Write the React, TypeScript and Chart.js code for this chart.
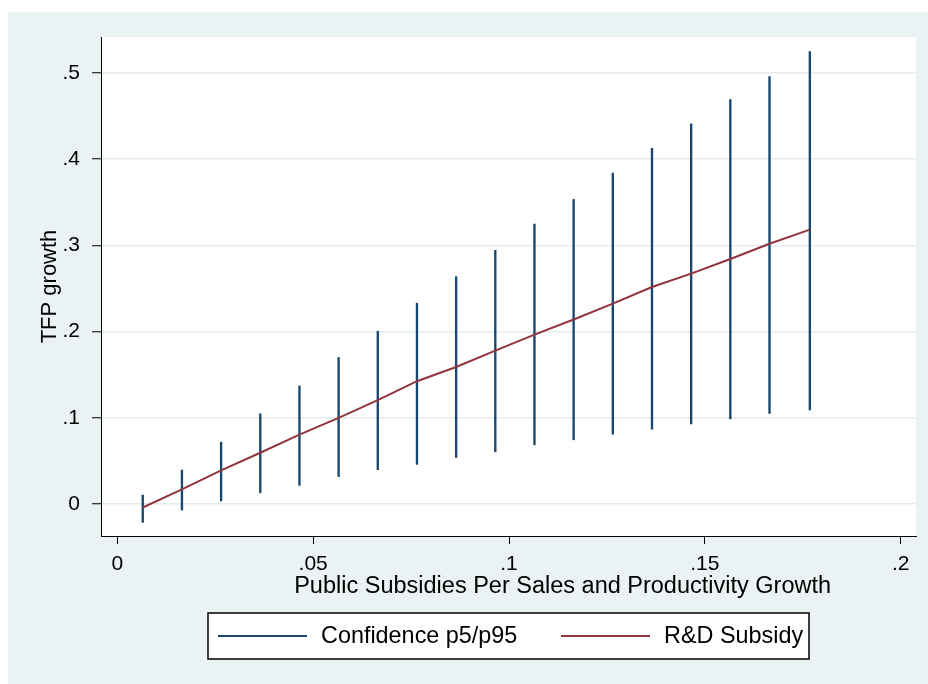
import React, { useEffect, useRef } from "react";
import { Chart, registerables } from "chart.js";

Chart.register(...registerables);

// ---- data ----
const subsidyPerSales = [
  0.0065, 0.0165, 0.0265, 0.0365, 0.0465, 0.0565, 0.0665, 0.0765, 0.0865,
  0.0965, 0.1065, 0.1165, 0.1265, 0.1365, 0.1465, 0.1565, 0.1665, 0.1768,
];
const tfpGrowth = [
  -0.004, 0.017, 0.039, 0.0595, 0.0805, 0.1, 0.1205, 0.1425, 0.159, 0.178,
  0.1966, 0.214, 0.2325, 0.2518, 0.2673, 0.2843, 0.302, 0.3183,
];
const ciLow = [
  -0.0212, -0.007, 0.0035, 0.0131, 0.0216, 0.0317, 0.0398, 0.046, 0.054,
  0.0606, 0.0687, 0.0745, 0.0811, 0.0869, 0.093, 0.0988, 0.105, 0.1093,
];
const ciHigh = [
  0.0104, 0.0394, 0.0718, 0.1047, 0.137, 0.17, 0.2005, 0.2329, 0.2638,
  0.2943, 0.3248, 0.3534, 0.3839, 0.4125, 0.441, 0.4693, 0.496, 0.525,
];
const yTickValues = [0, 0.1, 0.2, 0.3, 0.4, 0.5];
const xTickValues = [0, 0.05, 0.1, 0.15, 0.2];
const legendLabels = ["Confidence p5/p95", "R&D Subsidy"];
const xTitle = "Public Subsidies Per Sales and Productivity Growth";
const yTitle = "TFP growth";

const NAVY = "#1a476f";
const MAROON = "#90353b";
const BG = "#eaf2f3";
const GRID = "#e2ebee";
const FONT = "'Liberation Sans', Arial, sans-serif";

function fmt(v: number): string {
  if (Math.abs(v) < 1e-9) return "0";
  return String(+v.toFixed(3)).replace(/^0\./, ".").replace(/^-0\./, "-.");
}

const bgPlugin = {
  id: "stataBg",
  beforeDraw(chart: any) {
    const { ctx, chartArea, width, height } = chart;
    ctx.save();
    ctx.fillStyle = BG;
    ctx.fillRect(0, 0, width, height);
    ctx.fillStyle = "#ffffff";
    ctx.fillRect(
      chartArea.left,
      chartArea.top,
      chartArea.right - chartArea.left,
      chartArea.bottom - chartArea.top
    );
    ctx.restore();
  },
};

const extrasPlugin = {
  id: "stataExtras",
  afterDraw(chart: any) {
    const { ctx, chartArea } = chart;
    const w = chartArea.right - chartArea.left;
    ctx.save();
    // x axis title
    ctx.fillStyle = "#000";
    ctx.font = `23.5px ${FONT}`;
    ctx.textAlign = "center";
    ctx.textBaseline = "middle";
    ctx.fillText(xTitle, chartArea.left + 0.5664 * w, chartArea.bottom + 51);

    // legend box
    const bx = chartArea.left + 107;
    const by = chartArea.bottom + 77;
    const bw = 601;
    const bh = 46;
    ctx.fillStyle = "#ffffff";
    ctx.fillRect(bx, by, bw, bh);
    ctx.strokeStyle = "#000";
    ctx.lineWidth = 1.5;
    ctx.strokeRect(bx, by, bw, bh);
    const cy = by + bh / 2;
    const items = [
      { color: NAVY, label: legendLabels[0], x: bx + 10 },
      { color: MAROON, label: legendLabels[1], x: bx + 353 },
    ];
    ctx.font = `23.4px ${FONT}`;
    ctx.textAlign = "left";
    ctx.textBaseline = "middle";
    for (const it of items) {
      ctx.strokeStyle = it.color;
      ctx.lineWidth = 2;
      ctx.beginPath();
      ctx.moveTo(it.x, cy);
      ctx.lineTo(it.x + 89, cy);
      ctx.stroke();
      ctx.fillStyle = "#000";
      ctx.fillText(it.label, it.x + 103, cy + 1);
    }
    ctx.restore();
  },
};

export default function App() {
  const ref = useRef<HTMLCanvasElement | null>(null);

  useEffect(() => {
    document.documentElement.style.overflow = "hidden";
    if (!ref.current) return;
    const chart = new Chart(ref.current, {
      type: "line",
      data: {
        datasets: [
          {
            type: "line",
            label: legendLabels[1],
            data: subsidyPerSales.map((x, i) => ({ x, y: tfpGrowth[i] })),
            borderColor: MAROON,
            borderWidth: 2,
            pointRadius: 0,
            tension: 0,
            fill: false,
            order: 0,
          } as any,
          {
            type: "bar",
            label: legendLabels[0],
            data: subsidyPerSales.map((x, i) => ({ x, y: [ciLow[i], ciHigh[i]] })),
            backgroundColor: NAVY,
            borderWidth: 0,
            barThickness: 1.7,
            grouped: false,
            order: 1,
          } as any,
        ],
      },
      options: {
        responsive: false,
        animation: false,
        events: [],
        layout: { padding: { top: 25, right: 12, left: 0, bottom: 0 } },
        plugins: {
          legend: { display: false },
          tooltip: { enabled: false },
          title: { display: false },
        },
        scales: {
          x: {
            type: "linear",
            min: -0.00416,
            max: 0.2039,
            offset: false,
            afterBuildTicks: (scale: any) => {
              scale.ticks = xTickValues.map((v) => ({ value: v }));
            },
            afterFit: (scale: any) => {
              scale.height = 148;
            },
            grid: {
              display: true,
              offset: false,
              drawOnChartArea: false,
              drawTicks: true,
              tickLength: 8,
              tickColor: "#000",
              tickWidth: 1,
            },
            border: { display: true, color: "#000", width: 1 },
            ticks: {
              color: "#000",
              font: { family: FONT, size: 21 },
              padding: 8,
              maxRotation: 0,
              autoSkip: false,
              callback: (v: any) => fmt(Number(v)),
            },
          },
          y: {
            type: "linear",
            min: -0.0371,
            max: 0.5418,
            afterBuildTicks: (scale: any) => {
              scale.ticks = yTickValues.map((v) => ({ value: v }));
            },
            afterFit: (scale: any) => {
              scale.width = 93;
            },
            grid: {
              display: true,
              drawOnChartArea: true,
              drawTicks: true,
              tickLength: 9,
              color: GRID,
              lineWidth: 1.5,
              tickColor: "#000",
              tickWidth: 1,
            },
            border: { display: true, color: "#000", width: 1 },
            ticks: {
              color: "#000",
              font: { family: FONT, size: 21 },
              padding: 12,
              autoSkip: false,
              callback: (v: any) => fmt(Number(v)),
            },
            title: {
              display: true,
              text: yTitle,
              color: "#000",
              font: { family: FONT, size: 22 },
              padding: { top: 29, bottom: 0 },
            },
          },
        },
      },
      plugins: [bgPlugin, extrasPlugin],
    } as any);
    return () => chart.destroy();
  }, []);

  return (
    <div
      style={{
        position: "fixed",
        left: 8,
        top: 12,
        right: 0,
        bottom: 0,
        background: BG,
        overflow: "hidden",
      }}
    >
      <canvas ref={ref} width={920} height={672} style={{ display: "block" }} />
    </div>
  );
}
